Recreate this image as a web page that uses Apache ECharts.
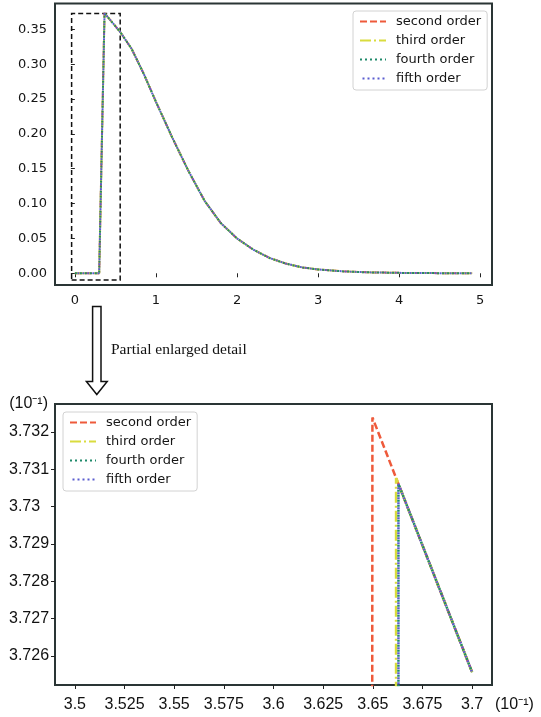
<!DOCTYPE html>
<html><head><meta charset="utf-8">
<script src="https://cdn.jsdelivr.net/npm/echarts@6/dist/echarts.min.js"></script>
<style>html,body{margin:0;padding:0;background:#fff}#c{width:541px;height:717px}</style>
</head><body><div id="c"></div>
<script>
// ---------- data ----------
const seriesNames = ['second order', 'third order', 'fourth order', 'fifth order'];

const topXTicks = [0, 1, 2, 3, 4, 5];
const topYTicks = [0, 0.05, 0.10, 0.15, 0.20, 0.25, 0.30, 0.35];
const detailXTicks = [3.5, 3.525, 3.55, 3.575, 3.6, 3.625, 3.65, 3.675, 3.7];
const detailYTicks = [3.726, 3.727, 3.728, 3.729, 3.73, 3.731, 3.732];
const zoomBox = [[-0.04, -0.0096], [0.559, 0.3726]];

// full curve (top panel)
const secondTop = [[0,0],[0.1,0],[0.2,0],[0.3,0],[0.365,0.3732],[0.45,0.3614],[0.56,0.346],[0.7,0.322],[0.85,0.286],[1.0,0.246],[1.2,0.195],[1.4,0.147],[1.6,0.104],[1.8,0.072],[2.0,0.050],[2.2,0.034],[2.4,0.022],[2.6,0.014],[2.8,0.0085],[3.0,0.0055],[3.3,0.0028],[3.6,0.0014],[4.0,0.0006],[4.5,0.0002],[4.9,0.0001]];
const thirdTop  = [[0,0],[0.1,0],[0.2,0],[0.3,0],[0.366,0.3731],[0.45,0.3614],[0.56,0.346],[0.7,0.322],[0.85,0.286],[1.0,0.246],[1.2,0.195],[1.4,0.147],[1.6,0.104],[1.8,0.072],[2.0,0.050],[2.2,0.034],[2.4,0.022],[2.6,0.014],[2.8,0.0085],[3.0,0.0055],[3.3,0.0028],[3.6,0.0014],[4.0,0.0006],[4.5,0.0002],[4.9,0.0001]];
const fourthTop = [[0,0],[0.1,0],[0.2,0],[0.3,0],[0.366,0.3731],[0.45,0.3614],[0.56,0.346],[0.7,0.322],[0.85,0.286],[1.0,0.246],[1.2,0.195],[1.4,0.147],[1.6,0.104],[1.8,0.072],[2.0,0.050],[2.2,0.034],[2.4,0.022],[2.6,0.014],[2.8,0.0085],[3.0,0.0055],[3.3,0.0028],[3.6,0.0014],[4.0,0.0006],[4.5,0.0002],[4.9,0.0001]];
const fifthTop  = [[0,0],[0.1,0],[0.2,0],[0.3,0],[0.366,0.3731],[0.45,0.3614],[0.56,0.346],[0.7,0.322],[0.85,0.286],[1.0,0.246],[1.2,0.195],[1.4,0.147],[1.6,0.104],[1.8,0.072],[2.0,0.050],[2.2,0.034],[2.4,0.022],[2.6,0.014],[2.8,0.0085],[3.0,0.0055],[3.3,0.0028],[3.6,0.0014],[4.0,0.0006],[4.5,0.0002],[4.9,0.0001]];

// enlarged detail (bottom panel, values in units of 10^-1)
const secondDetail = [[3.6497, 3.7245], [3.6498, 3.73239], [3.7, 3.72556]];
const thirdDetail  = [[3.6617, 3.7245], [3.6617, 3.73077], [3.7, 3.72556]];
const fourthDetail = [[3.6629, 3.7245], [3.6629, 3.73061], [3.7, 3.72556]];
const fifthDetail  = [[3.6629, 3.7245], [3.6629, 3.73061], [3.7, 3.72556]];

// ---------- styles ----------
const colors = ['#ee5a3b', '#d9dc3e', '#1f8a6a', '#5a5ccf'];
const dashTypes = [[7, 3], [11, 3, 2, 3], [2, 3], [2, 3]];
const dashOffsets = [0, 0, 0, 2.5];
const axisFontTop = { fontFamily: 'DejaVu Sans', fontSize: 13, color: '#151515' };
const axisFontBottom = { fontFamily: 'Liberation Sans', fontSize: 16, color: '#111' };
const frame = '#2a3535';

const fmt3 = v => String(parseFloat(v.toFixed(3)));

function mkSeries(name, data, idx, axisIdx, width, extra) {
  return Object.assign({
    name, type: 'line', data, xAxisIndex: axisIdx, yAxisIndex: axisIdx,
    symbol: 'none', showSymbol: false, clip: true, animation: false,
    lineStyle: { color: colors[idx], width, type: dashTypes[idx], dashOffset: dashOffsets[idx] },
    itemStyle: { color: colors[idx] }
  }, extra || {});
}

const topData = [secondTop, thirdTop, fourthTop, fifthTop];
const detailData = [secondDetail, thirdDetail, fourthDetail, fifthDetail];

const series = [];
topData.forEach((d, i) => series.push(mkSeries(seriesNames[i], d, i, 0, 2, i === 0 ? {
  markArea: {
    silent: true,
    itemStyle: { color: 'rgba(0,0,0,0)', borderColor: '#111', borderWidth: 1.5, borderType: [5, 3] },
    data: [[{ coord: zoomBox[0] }, { coord: zoomBox[1] }]]
  }
} : null)));
detailData.forEach((d, i) => series.push(mkSeries(seriesNames[i], d, i, 1, 2.5)));

const legendBase = {
  data: seriesNames, orient: 'vertical', itemWidth: 26, itemHeight: 14, itemGap: 4,
  padding: [3, 6, 4, 6], borderColor: '#d2d2d2', borderWidth: 1, borderRadius: 3,
  backgroundColor: 'rgba(255,255,255,0.85)', selectedMode: false,
  itemStyle: { opacity: 0 },
  textStyle: { fontFamily: 'DejaVu Sans', fontSize: 13, color: '#151515', padding: [0, 0, 0, 5], lineHeight: 15 }
};

const option = {
  backgroundColor: '#fff',
  animation: false,
  grid: [
    { left: 55, top: 3.5, width: 437, height: 281.5, show: true, borderColor: frame, borderWidth: 2, containLabel: false, outerBoundsMode: 'none' },
    { left: 55, top: 404, width: 437, height: 281, show: true, borderColor: frame, borderWidth: 2, containLabel: false, outerBoundsMode: 'none' }
  ],
  xAxis: [
    { type: 'value', gridIndex: 0, min: -0.245, max: 5.145,
      axisLine: { show: false }, splitLine: { show: false },
      axisTick: { show: true, customValues: topXTicks, length: 4, lineStyle: { color: '#222', width: 1 } },
      axisLabel: Object.assign({ customValues: topXTicks, margin: 9, formatter: v => String(v) }, axisFontTop) },
    { type: 'value', gridIndex: 1, min: 3.49, max: 3.71,
      axisLine: { show: false }, splitLine: { show: false },
      axisTick: { show: true, customValues: detailXTicks, length: 4, lineStyle: { color: '#222', width: 1 } },
      axisLabel: Object.assign({ customValues: detailXTicks, margin: 12, formatter: fmt3 }, axisFontBottom),
      name: '(10⁻¹)', nameLocation: 'end', nameGap: 3,
      nameTextStyle: Object.assign({ align: 'left', verticalAlign: 'top', padding: [12, 0, 0, 0] }, axisFontBottom) }
  ],
  yAxis: [
    { type: 'value', gridIndex: 0, min: -0.0168, max: 0.387,
      axisLine: { show: false }, splitLine: { show: false },
      axisTick: { show: true, customValues: topYTicks, length: 4, lineStyle: { color: '#222', width: 1 } },
      axisLabel: Object.assign({ customValues: topYTicks, margin: 8, formatter: v => v.toFixed(2) }, axisFontTop) },
    { type: 'value', gridIndex: 1, min: 3.72522, max: 3.73275,
      axisLine: { show: false }, splitLine: { show: false },
      axisTick: { show: true, customValues: detailYTicks, length: 4, lineStyle: { color: '#222', width: 1 } },
      axisLabel: Object.assign({ customValues: detailYTicks, margin: 46, align: 'left', formatter: fmt3 }, axisFontBottom),
      name: '(10⁻¹)', nameLocation: 'end', nameGap: 0,
      nameTextStyle: Object.assign({ align: 'right', verticalAlign: 'middle', padding: [2, 7, 0, 0] }, axisFontBottom) }
  ],
  legend: [
    Object.assign({ left: 353, top: 11 }, legendBase),
    Object.assign({ left: 63, top: 412 }, legendBase)
  ],
  graphic: [
    { type: 'polygon', silent: true,
      shape: { points: [[92.6, 306.5], [101, 306.5], [101, 381.5], [107.2, 381.5], [96.8, 394.5], [86.4, 381.5], [92.6, 381.5]] },
      style: { fill: '#fff', stroke: '#111', lineWidth: 1.5 } },
    { type: 'text', left: 111, top: 342, silent: true,
      style: { text: 'Partial enlarged detail', font: '15.5px "Liberation Serif"', fill: '#111' } }
  ],
  series
};

const chart = echarts.init(document.getElementById('c'), null, { renderer: 'canvas' });
chart.setOption(option);
</script>
</body></html>
